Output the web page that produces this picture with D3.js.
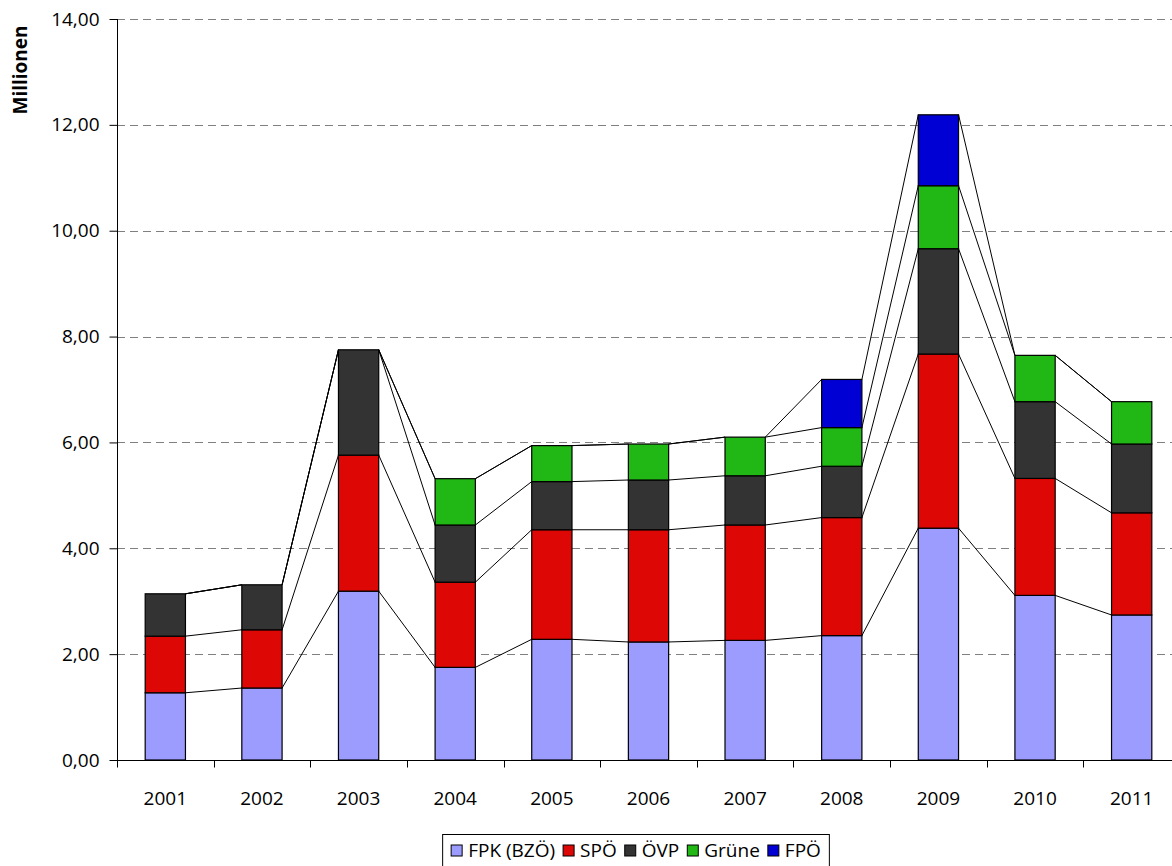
<!DOCTYPE html>
<html>
<head>
<meta charset="utf-8">
<script src="https://cdn.jsdelivr.net/npm/d3@7"></script>
<style>
  body { margin: 0; background: #fff; }
  svg { display: block; font-family: 'Open Sans', sans-serif; }
</style>
</head>
<body>
<main></main>
<script>
// values in millions
const years = ['2001', '2002', '2003', '2004', '2005', '2006', '2007', '2008', '2009', '2010', '2011']
const fpk = [1.27, 1.36, 3.19, 1.75, 2.28, 2.23, 2.26, 2.35, 4.38, 3.11, 2.74]
const spo = [1.07, 1.10, 2.57, 1.61, 2.07, 2.12, 2.18, 2.23, 3.29, 2.21, 1.93]
const ovp = [0.80, 0.85, 1.99, 1.08, 0.91, 0.94, 0.93, 0.97, 1.99, 1.45, 1.30]
const gruene = [0, 0, 0, 0.875, 0.68, 0.68, 0.73, 0.73, 1.19, 0.875, 0.80]
const fpo = [0, 0, 0, 0, 0, 0, 0, 0.91, 1.34, 0, 0]
const seriesNames = ['FPK (BZÖ)', 'SPÖ', 'ÖVP', 'Grüne', 'FPÖ']
const seriesColors = ['#9c9cff', '#dd0806', '#333333', '#21b714', '#0000d4']
const yTicks = [0, 2, 4, 6, 8, 10, 12, 14]

const sizes = { width: 1172, height: 866, left: 117, right: 1180, top: 19, bottom: 760 }

const values = [fpk, spo, ovp, gruene, fpo]
const rows = years.map((y, i) => {
  const r = { year: y }
  seriesNames.forEach((n, k) => { r[n] = values[k][i] })
  return r
})
const stacked = d3.stack().keys(seriesNames)(rows)

const svg = d3.select('main')
  .append('svg')
  .attr('width', sizes.width)
  .attr('height', sizes.height)
  .attr('viewBox', `0,0,${sizes.width},${sizes.height}`)

const x = d3.scaleBand()
  .domain(years)
  .range([sizes.left, sizes.right])
  .padding(0)
const barW = x.bandwidth() / 2.4
const barX = d => x(d) + (x.bandwidth() - barW) / 2

const y = d3.scaleLinear()
  .domain([0, 14])
  .range([sizes.bottom, sizes.top])

const fmt = d3.formatLocale({ decimal: ',', thousands: '.', grouping: [3], currency: ['', '€'] }).format('.2f')

// gridlines
svg.append('g')
  .selectAll('line')
  .data(yTicks.filter(t => t > 0))
  .enter()
  .append('line')
  .attr('x1', sizes.left)
  .attr('x2', sizes.right)
  .attr('y1', d => Math.round(y(d)) + 0.5)
  .attr('y2', d => Math.round(y(d)) + 0.5)
  .attr('stroke', '#808080')
  .attr('stroke-dasharray', '8,5')

// bars
const layers = svg.append('g')
  .selectAll('g')
  .data(stacked)
  .enter()
  .append('g')
  .attr('fill', (d, i) => seriesColors[i])
layers.selectAll('rect')
  .data(d => d.filter(p => p[1] - p[0] > 0))
  .enter()
  .append('rect')
  .attr('x', d => barX(d.data.year))
  .attr('y', d => y(d[1]))
  .attr('width', barW)
  .attr('height', d => y(d[0]) - y(d[1]))
  .attr('stroke', '#000')
  .attr('stroke-width', 1.2)

// series lines between neighbouring bars
stacked.forEach(layer => {
  svg.append('g')
    .selectAll('line')
    .data(layer.slice(0, -1))
    .enter()
    .append('line')
    .attr('x1', d => barX(d.data.year) + barW)
    .attr('y1', d => y(d[1]))
    .attr('x2', (d, i) => barX(layer[i + 1].data.year))
    .attr('y2', (d, i) => y(layer[i + 1][1]))
    .attr('stroke', '#000')
    .attr('stroke-width', 1)
})

// y axis
const yAxis = svg.append('g')
  .attr('transform', `translate(${sizes.left + 0.5},0)`)
  .call(d3.axisLeft(y).tickValues(yTicks).tickFormat(fmt).tickSize(8).tickPadding(10))
yAxis.select('.domain').attr('stroke', '#000').attr('d', `M0,${sizes.top}V${sizes.bottom}`)
yAxis.selectAll('.tick line').attr('stroke', '#000')
yAxis.selectAll('text')
  .attr('fill', '#000')
  .style('font-size', '19px')
  .style('font-family', "'Open Sans', sans-serif")

// x axis
const xAxis = svg.append('g')
  .attr('transform', `translate(0,${sizes.bottom + 0.5})`)
xAxis.append('line')
  .attr('x1', sizes.left)
  .attr('x2', sizes.right)
  .attr('stroke', '#000')
xAxis.selectAll('.xtick')
  .data(years.concat(['end']))
  .enter()
  .append('line')
  .attr('class', 'xtick')
  .attr('x1', d => d === 'end' ? sizes.right : Math.round(x(d)) + 0.5)
  .attr('x2', d => d === 'end' ? sizes.right : Math.round(x(d)) + 0.5)
  .attr('y1', 0)
  .attr('y2', 7)
  .attr('stroke', '#000')
xAxis.selectAll('text')
  .data(years)
  .enter()
  .append('text')
  .attr('x', d => x(d) + x.bandwidth() / 2)
  .attr('y', 44)
  .attr('text-anchor', 'middle')
  .style('font-size', '19px')
  .text(d => d)

// axis title
svg.append('text')
  .attr('transform', 'translate(27,70) rotate(-90)')
  .attr('text-anchor', 'middle')
  .style('font-size', '19px')
  .style('font-weight', 'bold')
  .text('Millionen')

// legend
const legend = svg.append('g')
const items = legend.selectAll('.item')
  .data(seriesNames)
  .enter()
  .append('g')
  .attr('class', 'item')
items.append('rect')
  .attr('width', 11)
  .attr('height', 11)
  .attr('y', -12)
  .attr('fill', (d, i) => seriesColors[i])
  .attr('stroke', '#000')
items.append('text')
  .attr('x', 17)
  .style('font-size', '19px')
  .text(d => d)
let cursor = 0
items.each(function () {
  const g = d3.select(this)
  g.attr('transform', `translate(${cursor},0)`)
  cursor += 17 + g.select('text').node().getComputedTextLength() + 8
})
const legendW = cursor - 8
const legendX = 636 - legendW / 2
legend.attr('transform', `translate(${legendX},857)`)
svg.insert('rect', 'g')
  .attr('x', legendX - 8.5)
  .attr('y', 834.5)
  .attr('width', legendW + 17)
  .attr('height', 40)
  .attr('fill', '#fff')
  .attr('stroke', '#000')
</script>
</body>
</html>
